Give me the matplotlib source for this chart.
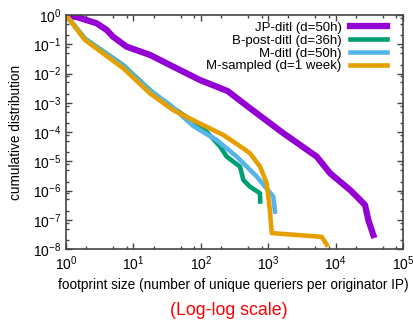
import matplotlib
matplotlib.use('Agg')
import matplotlib.pyplot as plt
from matplotlib.ticker import LogLocator, NullFormatter

plt.rcParams['font.family'] = ['Liberation Sans', 'DejaVu Sans']
plt.rcParams['mathtext.fontset'] = 'custom'
plt.rcParams['mathtext.rm'] = 'Liberation Sans'
plt.rcParams['mathtext.default'] = 'regular'

# footprint size vs cumulative distribution
jp_x = [1, 1.5, 2.85, 4.0, 5.0, 7.9, 17.7, 34.9, 97, 251, 537, 1675, 5250, 8260, 16400, 20600, 27300, 30600, 36300]
jp_y = [1, 0.83, 0.52, 0.31, 0.18, 0.083, 0.043, 0.0195, 0.006, 0.0025, 6.5e-4, 9.1e-5, 1.44e-5, 3.9e-6, 1.04e-6, 6.2e-7, 3.2e-7, 9.8e-8, 3.0e-8]

bpost_x = [1, 1.91, 7.1, 17.6, 39, 77.5, 122, 193, 242, 382, 427, 537, 756, 760]
bpost_y = [1, 0.155, 0.019, 0.0027, 6.5e-4, 2.3e-4, 1.02e-4, 3.2e-5, 1.44e-5, 6.5e-6, 2.3e-6, 1.35e-6, 8e-7, 4.2e-7]

mditl_x = [1, 1.91, 7.1, 17.6, 34.9, 77.4, 172, 341, 676, 1190, 1260]
mditl_y = [1, 0.15, 0.018, 0.0026, 8.5e-4, 1.6e-4, 5.3e-5, 1.44e-5, 3.0e-6, 6.2e-7, 1.9e-7]

msamp_x = [1, 1.91, 7.1, 17.6, 39, 87, 216, 427, 537, 756, 950, 1050, 1130, 6220, 7380]
msamp_y = [1, 0.14, 0.015, 0.0021, 5.6e-4, 2.2e-4, 7.9e-5, 2.75e-5, 1.87e-5, 6.6e-6, 1.77e-6, 2.5e-7, 3.5e-8, 2.6e-8, 1.4e-8]

labels = ['JP-ditl (d=50h)', 'B-post-ditl (d=36h)', 'M-ditl (d=50h)', 'M-sampled (d=1 week)']
colors = ['#9400D3', '#009E73', '#56B4E9', '#E69F00']

fig = plt.figure(figsize=(4.14, 3.2), dpi=100)
ax = fig.add_axes([66/414, 1-249/320, 337/414, 234/320])

ax.plot(jp_x, jp_y, color=colors[0], lw=4.5, label=labels[0])
ax.plot(bpost_x, bpost_y, color=colors[1], lw=3.3, label=labels[1])
ax.plot(mditl_x, mditl_y, color=colors[2], lw=3.3, label=labels[2])
ax.plot(msamp_x, msamp_y, color=colors[3], lw=3.3, label=labels[3])

ax.set_xscale('log')
ax.set_yscale('log')
ax.set_xlim(1, 1e5)
ax.set_ylim(1e-8, 1)
ax.xaxis.set_major_locator(LogLocator(base=10, numticks=10))
ax.yaxis.set_major_locator(LogLocator(base=10, numticks=12))
ax.xaxis.set_minor_locator(LogLocator(base=10, subs=(2, 5, 8), numticks=12))
ax.yaxis.set_minor_locator(LogLocator(base=10, subs=(2, 5, 8), numticks=12))
ax.xaxis.set_minor_formatter(NullFormatter())
ax.yaxis.set_minor_formatter(NullFormatter())
ax.tick_params(which='both', direction='in', top=True, right=True, labelsize=10, color='#444444')
ax.tick_params(which='major', length=4, width=1)
ax.tick_params(which='minor', length=2, width=1)
ax.tick_params(axis='x', pad=4)
for s in ax.spines.values():
    s.set_color('#444444')
    s.set_linewidth(1.2)

ax.set_xlabel('footprint size (number of unique queriers per originator IP)', fontsize=9.8)
ax.set_ylabel('cumulative distribution', fontsize=9.8)
ax.xaxis.set_label_coords(0.497, -0.125)
ax.yaxis.set_label_coords(-0.128, 0.5)

ax.legend(loc='upper right', bbox_to_anchor=(387/414, 1-21.5/320), bbox_transform=fig.transFigure,
          frameon=False, markerfirst=False, fontsize=9.5, handlelength=2.8, handletextpad=0.65,
          labelspacing=0.05, borderpad=0, borderaxespad=0)

fig.text(229/414, 0.031, '(Log-log scale)', color='red', fontsize=12.8, ha='center', va='center')

fig.savefig('out.png', dpi=100)
